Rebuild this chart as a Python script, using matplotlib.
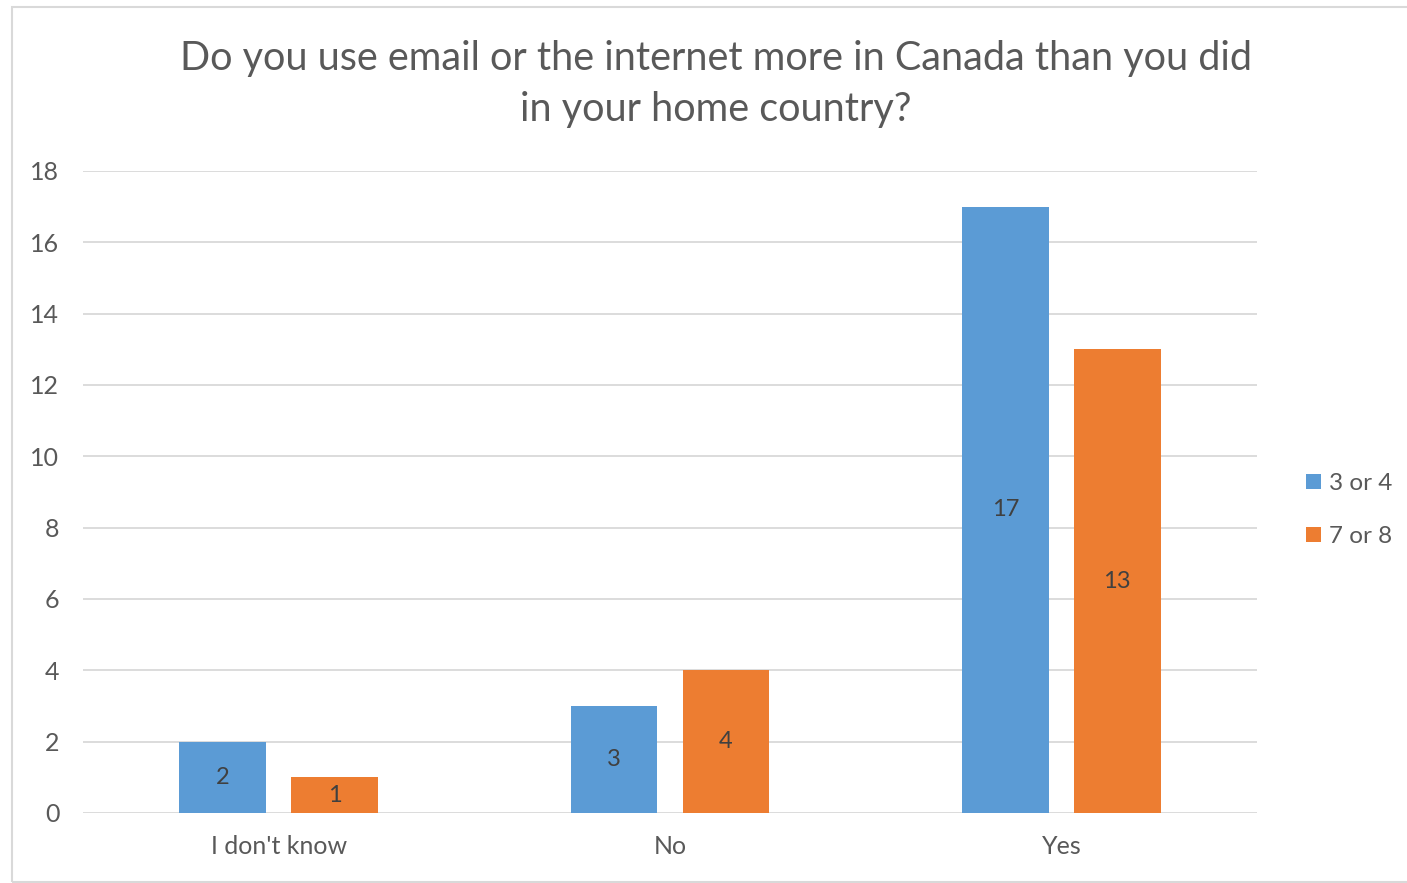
import matplotlib.pyplot as plt
import matplotlib.patches as mpatches
import numpy as np

categories = ["I don't know", "No", "Yes"]
series_names = ["3 or 4", "7 or 8"]
values_3_4 = [2, 3, 17]
values_7_8 = [1, 4, 13]
yticks = [0, 2, 4, 6, 8, 10, 12, 14, 16, 18]

blue = "#5B9BD5"
orange = "#ED7D31"
grey_text = "#595959"
grid_col = "#D9D9D9"

plt.rcParams["font.family"] = ["Lato", "DejaVu Sans"]

fig = plt.figure(figsize=(14.07, 8.83), dpi=100)

# outer chart frame
fig.patches.append(mpatches.Rectangle((12 / 1407, 1 / 883), 1400 / 1407, 875 / 883,
                                      transform=fig.transFigure, fill=False,
                                      edgecolor="#D9D9D9", linewidth=1.5))

ax = fig.add_axes([83 / 1407, 1 - 813 / 883, 1174 / 1407, 642 / 883])

x = np.arange(len(categories))
w = 0.222
off = 0.143
b1 = ax.bar(x - off, values_3_4, w, color=blue, label=series_names[0], zorder=3)
b2 = ax.bar(x + off, values_7_8, w, color=orange, label=series_names[1], zorder=3)

for bars, vals in ((b1, values_3_4), (b2, values_7_8)):
    for rect, v in zip(bars, vals):
        ax.text(rect.get_x() + rect.get_width() / 2, v / 2, str(v),
                ha="center", va="center", fontsize=17, color="#404040", zorder=4)

ax.set_xlim(-0.5, len(categories) - 0.5)
ax.set_ylim(0, 18)
ax.set_yticks(yticks)
ax.set_xticks(x)
ax.set_xticklabels(categories)
ax.tick_params(axis="both", length=0, labelsize=18, colors=grey_text)
ax.tick_params(axis="y", pad=17)
ax.tick_params(axis="x", pad=16)
ax.grid(axis="y", color=grid_col, linewidth=1.3, zorder=0)
for s in ax.spines.values():
    s.set_visible(False)

fig.text(716 / 1407, 1 - 84 / 883,
         "Do you use email or the internet more in Canada than you did\nin your home country?",
         ha="center", va="center", fontsize=28.5, color=grey_text, linespacing=1.45)

leg = fig.legend(handles=[b1, b2], labels=series_names, loc="center left",
                 bbox_to_anchor=(1306 / 1407, 1 - 510 / 883), frameon=False,
                 fontsize=17.5, handlelength=0.6, handleheight=0.6, handletextpad=0.35,
                 labelspacing=1.3, labelcolor=grey_text, borderpad=0, borderaxespad=0)

fig.savefig("out.png", dpi=100)
